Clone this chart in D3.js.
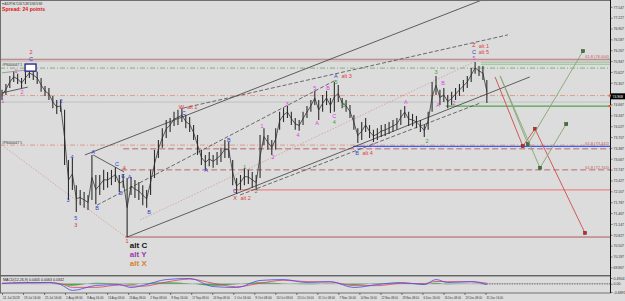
<!DOCTYPE html>
<html>
<head>
<meta charset="utf-8">
<script src="https://cdn.jsdelivr.net/npm/d3@7"></script>
<style>
html, body { margin: 0; padding: 0; background: #dcdcdc; }
svg { display: block; font-family: "Liberation Sans", Arial, sans-serif; }
</style>
</head>
<body>
<div id="chart"></div>
<script>
// ---- data (one bar per trading day) ----
const barHigh = [
  75.10, 75.27, 75.51, 75.63, 75.57, 75.45, 75.63, 75.74, 75.68, 75.63,
  75.45, 75.21, 75.15, 74.92, 74.80, 74.80, 74.51, 73.03, 73.09, 72.29,
  72.15, 72.09, 72.00, 73.18, 72.59, 72.59, 72.74, 72.68, 72.74, 72.82,
  72.59, 72.62, 72.50, 72.53, 72.44, 72.38, 72.29, 72.15, 72.74, 73.33,
  73.62, 73.97, 74.21, 74.27, 74.45, 74.51, 74.56, 74.36, 74.30, 74.06,
  73.77, 73.33, 73.18, 73.27, 73.18, 73.27, 73.39, 73.62, 73.56, 73.03,
  72.50, 72.59, 72.80, 72.74, 72.68, 72.59, 73.77, 73.97, 73.77, 73.62,
  73.97, 74.45, 74.56, 74.62, 74.45, 74.27, 74.21, 74.45, 74.62, 74.80,
  75.07, 74.80, 74.95, 75.07, 74.86, 75.33, 75.24, 74.86, 74.80, 74.65,
  74.36, 73.97, 74.15, 74.27, 74.06, 73.92, 73.97, 74.06, 74.09, 74.15,
  74.21, 74.27, 74.51, 74.62, 74.45, 74.39, 74.33, 74.21, 74.09, 74.45,
  75.33, 75.51, 75.10, 75.15, 74.95, 75.04, 75.15, 75.27, 75.39, 75.51,
  75.74, 75.92, 75.80, 75.80, 75.39
];
const barLow = [
  74.80, 74.95, 75.15, 75.33, 75.27, 75.15, 75.27, 75.45, 75.39, 75.27,
  75.04, 74.92, 74.80, 74.56, 74.39, 74.45, 72.88, 71.85, 72.15, 71.50,
  71.70, 71.62, 71.56, 71.85, 71.73, 72.00, 72.15, 72.21, 72.29, 72.38,
  72.09, 72.21, 70.76, 72.00, 71.91, 71.85, 71.70, 71.62, 72.00, 72.50,
  73.09, 73.39, 73.68, 73.86, 74.03, 74.06, 74.15, 73.97, 73.86, 73.62,
  73.18, 72.88, 72.74, 72.85, 72.80, 72.88, 72.97, 73.09, 73.09, 72.29,
  72.03, 72.15, 72.29, 72.32, 72.21, 72.15, 72.50, 73.47, 73.33, 73.18,
  73.33, 73.92, 74.15, 74.27, 74.06, 73.92, 73.89, 74.06, 74.27, 74.45,
  74.65, 74.21, 74.45, 74.65, 74.42, 74.45, 74.74, 74.56, 74.45, 74.27,
  73.92, 73.53, 73.62, 73.86, 73.68, 73.56, 73.62, 73.71, 73.74, 73.80,
  73.86, 73.92, 74.06, 74.27, 74.03, 74.03, 73.97, 73.86, 73.71, 73.92,
  74.45, 74.95, 74.65, 74.74, 74.56, 74.65, 74.80, 74.92, 75.04, 75.15,
  75.33, 75.57, 75.51, 75.39, 74.71
];
const lastPrice = 74.908;

const timeLabels = [
  '11 Jul 2019', '19 Jul 16:00', '25 Jul 16:00', '2 Aug 08:00', '9 Aug 16:00', '16 Aug 08:00',
  '23 Aug 08:00', '2 Sep 08:00', '9 Sep 16:00', '17 Sep 08:00', '24 Sep 08:00', '1 Oct 16:00',
  '9 Oct 08:00', '16 Oct 08:00', '23 Oct 16:00', '31 Oct 08:00', '7 Nov 16:00', '14 Nov 16:00',
  '22 Nov 08:00', '29 Nov 08:00', '6 Dec 16:00', '16 Dec 08:00', '23 Dec 08:00', '31 Dec 16:00'
];
// 74.987 sits under the current-price box, so it is not listed
const priceTicks = [
  77.547, 77.227, 76.907, 76.587, 76.267, 75.947, 75.627, 75.307, 74.667,
  74.347, 74.027, 73.707, 73.387, 73.067, 72.747, 72.427, 72.107, 71.787, 71.467,
  71.147, 70.827, 70.507, 70.187, 69.867
];

// horizontal levels: price, first bar, kind
const levelPrice = [76.00, 75.95, 75.90, 75.85, 75.74, 74.93, 74.74, 74.62, 73.47, 73.43, 73.36, 72.74, 72.15, 70.76];
const levelStart = [0, 0, 123, 123, 0, 0, 0, 114, 0, 90.3, 31.5, 31, 59.6, 32];
const levelKind  = ['brown', 'brownLight', 'greenLight', 'greenLight', 'greenDashDot', 'salmonDashDot', 'grey',
                    'green', 'salmonDashDot', 'blue', 'brownDash', 'brownDash', 'pink', 'darkRed'];
const fibPrice = [76.00, 73.43, 72.74];
const fibText  = ['61.8 (76.004)', '61.8 (73.432)', '61.8 (72.744)'];

// trend lines: [bar, price] -> [bar, price]
const trendFrom = [[21.2, 73.18], [32, 70.76], [60.9, 72.00], [46.3, 74.56], [24.3, 71.70], [23.3, 73.18],
                   [0, 75.01], [0, 75.60], [0, 73.47], [35.3, 71.26]];
const trendTo   = [[122.8, 77.75], [135, 75.48], [122.3, 74.71], [129.4, 76.72], [85.4, 75.39], [31.2, 72.68],
                   [6.6, 75.18], [5.9, 75.68], [32, 70.73], [120.7, 75.92]];
const trendKind = ['solid', 'solid', 'dash', 'dash', 'dash', 'solid', 'solid', 'grey', 'pinkDot', 'pinkDot'];

// projected paths on the right
const projRedBars = [126.1, 133.2, 136.3, 149.1];
const projRedPrices = [75.48, 73.44, 73.95, 70.88];
const projGreenABars = [127.4, 134.5, 148.6];
const projGreenAPrices = [75.51, 73.50, 76.24];
const projGreenBBars = [127.4, 137.6, 144.3];
const projGreenBPrices = [75.51, 72.80, 74.09];

// wave labels: bar, price, text, kind
const waveLabels = [
  [0.2, 74.77, '1', 'mag'], [3.6, 75.64, '1', 'mag'], [5.1, 75.04, '2', 'mag'],
  [7.4, 76.20, '2', 'red'], [7.4, 76.01, 'C', 'blue'],
  [15.1, 74.77, '2', 'blue'], [16.9, 71.85, '3', 'blue'], [17.9, 73.12, '4', 'blue'],
  [18.9, 71.32, '5', 'blue'], [18.9, 71.12, '3', 'red'],
  [23.3, 73.27, 'A', 'blue'], [24.3, 71.62, 'B', 'blue'], [29.4, 72.91, 'C', 'blue'],
  [30.4, 72.06, 'D', 'blue'], [31.0, 72.56, 'E', 'blue'], [31.3, 72.80, '4', 'red'],
  [32.6, 72.53, 'A', 'blue'], [32.0, 70.64, '1', 'red'], [37.6, 71.50, 'B', 'blue'],
  [46.5, 74.42, 'C', 'blue'], [45.9, 74.59, 'W', 'red'], [47.3, 74.59, 'alt 1', 'alt'],
  [52.2, 72.74, 'A', 'blue'], [58.0, 73.62, 'B', 'blue'],
  [59.6, 72.12, 'C', 'blue'], [59.6, 71.90, 'X', 'red'], [61.0, 71.90, 'alt 2', 'alt'],
  [62.1, 72.82, '1', 'green'], [65.0, 72.12, '2', 'green'],
  [66.5, 74.03, '1', 'mag'], [69.3, 73.12, '2', 'mag'], [72.9, 74.68, '3', 'mag'],
  [75.7, 73.77, '4', 'mag'], [80.0, 75.15, '5', 'mag'], [80.6, 74.12, 'A', 'mag'],
  [83.4, 75.15, 'B', 'mag'], [85.0, 74.33, 'C', 'mag'], [85.0, 74.15, '4', 'green'],
  [85.4, 75.51, 'A', 'blue'], [86.8, 75.51, 'alt 3', 'alt'], [85.4, 75.33, '5', 'green'],
  [87.5, 74.65, 'B', 'green'],
  [90.8, 73.24, 'B', 'blue'], [92.2, 73.24, 'alt 4', 'alt'],
  [94.9, 73.47, '2', 'mag'], [103.3, 74.74, 'A', 'mag'], [108.7, 73.59, '2', 'green'],
  [111.0, 75.63, '3', 'green'], [111.5, 74.65, 'A', 'mag'], [112.8, 75.30, 'B', 'mag'],
  [115.6, 74.71, '2', 'mag'],
  [120.7, 76.04, '5', 'mag'], [120.7, 76.22, 'C', 'blue'], [121.9, 76.20, 'alt 5', 'alt'],
  [120.7, 76.42, 'Z', 'red'], [121.9, 76.40, 'alt 1', 'alt']
];
const altBigLabels = [[32.7, 70.53, 'alt C', 'altC'], [32.7, 70.26, 'alt Y', 'altY'], [32.7, 69.99, 'alt X', 'altX']];

// MACD window
const oscBars   = [0, 6, 12, 15, 18, 24, 30, 33, 36, 42, 48, 54, 60, 66, 72, 78, 84, 90, 96, 102, 108, 111, 114, 120, 124];
const macdMain  = [0.03, 0.11, 0.11, -0.06, -0.56, -0.14, -0.06, -0.31, -0.14, 0.36, 0.45, -0.23, -0.31, 0.28, 0.36, 0.11, 0.19, -0.31, -0.06, 0.11, -0.06, 0.36, 0.11, 0.19, -0.06];
const macdSignal = [0.05, 0.08, 0.10, 0.02, -0.30, -0.30, -0.10, -0.18, -0.20, 0.15, 0.40, 0.05, -0.25, 0.05, 0.30, 0.18, 0.15, -0.15, -0.15, 0.03, 0.02, 0.20, 0.18, 0.17, 0.05];
const oscTicks = [0.4904, 0, -0.6891];
const oscTickText = ['0.4904', '0.00', '-0.6891'];

// ---- drawing ----
const W = 625, H = 301;
const svg = d3.select('#chart').append('svg').attr('width', W).attr('height', H);

const x = d3.scaleLinear().domain([0, 155.5]).range([2, 610]);
const y = d3.scaleLinear().domain([69.641, 77.718]).range([275, 1]);
const yOsc = d3.scaleLinear().domain([-0.6891, 0.4904]).range([292, 278]);

svg.append('rect').attr('width', W).attr('height', H).attr('fill', '#dcdcdc');

const defs = svg.append('defs');
defs.append('clipPath').attr('id', 'clipMain').append('rect').attr('x', 1).attr('y', 1).attr('width', 609).attr('height', 274);
defs.append('clipPath').attr('id', 'clipOsc').append('rect').attr('x', 1).attr('y', 276).attr('width', 609).attr('height', 17);

const main = svg.append('g').attr('clip-path', 'url(#clipMain)');

const levelStyle = {
  brown:         { stroke: '#b37a7a', dash: null, w: 1 },
  brownLight:    { stroke: '#c9a0a0', dash: null, w: 0.8 },
  greenLight:    { stroke: '#9cc99c', dash: null, w: 1 },
  greenDashDot:  { stroke: '#5fa85f', dash: '5,2,1,2', w: 0.8 },
  salmonDashDot: { stroke: '#e08a6e', dash: '5,2,1,2', w: 0.8 },
  grey:          { stroke: '#b9b9b9', dash: null, w: 0.8 },
  green:         { stroke: '#4ea34e', dash: null, w: 1.2 },
  blue:          { stroke: '#3a5cf0', dash: null, w: 1.2 },
  brownDash:     { stroke: '#b85c5c', dash: '6,3', w: 0.9 },
  pink:          { stroke: '#ee8585', dash: null, w: 1.2 },
  darkRed:       { stroke: '#b25a5a', dash: null, w: 1 }
};
levelPrice.forEach((p, i) => {
  const s = levelStyle[levelKind[i]];
  main.append('line')
    .attr('x1', x(levelStart[i]) - 2).attr('x2', 612)
    .attr('y1', y(p)).attr('y2', y(p))
    .attr('stroke', s.stroke).attr('stroke-width', s.w)
    .attr('stroke-dasharray', s.dash);
});

const trendStyle = {
  solid:   { stroke: '#3c3c3c', dash: null, w: 0.8 },
  dash:    { stroke: '#4a4a4a', dash: '4,2', w: 0.8 },
  grey:    { stroke: '#8a8a8a', dash: null, w: 0.8 },
  pinkDot: { stroke: '#d49a9a', dash: '1.5,1.5', w: 0.8 }
};
trendFrom.forEach((a, i) => {
  const b = trendTo[i], s = trendStyle[trendKind[i]];
  main.append('line')
    .attr('x1', x(a[0])).attr('y1', y(a[1]))
    .attr('x2', x(b[0])).attr('y2', y(b[1]))
    .attr('stroke', s.stroke).attr('stroke-width', s.w)
    .attr('stroke-dasharray', s.dash);
});

// price bars
const bars = barHigh.map((h, i) => ({ i, h, l: barLow[i] }));
main.append('path')
  .attr('d', d3.line().x(d => x(d.i)).y(d => y((d.h + d.l) / 2))(bars))
  .attr('fill', 'none').attr('stroke', '#333').attr('stroke-width', 0.8);
main.selectAll('.bar').data(bars).enter().append('line')
  .attr('class', 'bar')
  .attr('x1', d => x(d.i)).attr('x2', d => x(d.i))
  .attr('y1', d => y(d.h)).attr('y2', d => y(d.l))
  .attr('stroke', '#2c2c2c').attr('stroke-width', 1.1);

// blue box on the early high
main.append('rect')
  .attr('x', x(5.9)).attr('y', y(75.86))
  .attr('width', x(8.7) - x(5.9)).attr('height', y(75.65) - y(75.86))
  .attr('fill', '#ffffff').attr('stroke', '#2b2b8a').attr('stroke-width', 1.4);

// projections
function projPath(bs, ps, color, boxColor) {
  const pts = bs.map((b, i) => [x(b), y(ps[i])]);
  main.append('path').attr('d', d3.line()(pts))
    .attr('fill', 'none').attr('stroke', color).attr('stroke-width', 0.9);
  main.selectAll(null).data(pts.slice(1)).enter().append('rect')
    .attr('x', d => d[0] - 1.6).attr('y', d => d[1] - 1.6)
    .attr('width', 3.2).attr('height', 3.2)
    .attr('fill', boxColor).attr('stroke', '#333').attr('stroke-width', 0.4);
}
projPath(projRedBars, projRedPrices, '#cf4b4b', '#d42020');
projPath(projGreenABars, projGreenAPrices, '#86a672', '#3b7a2a');
projPath(projGreenBBars, projGreenBPrices, '#86a672', '#3b7a2a');

// wave labels
const waveColor = { blue: '#2f3fd0', red: '#e03030', mag: '#e040e0', green: '#3f9a3f', alt: '#e04040' };
main.selectAll('.wave').data(waveLabels).enter().append('text')
  .attr('class', 'wave')
  .attr('x', d => x(d[0])).attr('y', d => y(d[1]))
  .attr('dy', '0.35em')
  .attr('text-anchor', d => d[3] === 'alt' ? 'start' : 'middle')
  .attr('font-size', 5.5)
  .attr('fill', d => waveColor[d[3]])
  .text(d => d[2]);

const bigColor = { altC: '#111111', altY: '#9a3aa8', altX: '#d9803a' };
main.selectAll('.big').data(altBigLabels).enter().append('text')
  .attr('class', 'big')
  .attr('x', d => x(d[0])).attr('y', d => y(d[1]))
  .attr('dy', '0.35em')
  .attr('font-size', 8).attr('font-weight', 'bold')
  .attr('fill', d => bigColor[d[3]])
  .text(d => d[2]);

// fib labels and object names
main.selectAll('.fib').data(fibPrice).enter().append('text')
  .attr('x', 609).attr('y', d => y(d) - 1)
  .attr('text-anchor', 'end').attr('font-size', 4)
  .attr('fill', '#c05a5a')
  .text((d, i) => fibText[i]);
main.append('text').attr('x', 2).attr('y', y(75.74) - 2.5).attr('font-size', 3.4).attr('fill', '#333')
  .attr('textLength', 20).attr('lengthAdjust', 'spacingAndGlyphs').text('#PS000047 1');
main.append('text').attr('x', 2).attr('y', y(73.47) - 1.5).attr('font-size', 3.4).attr('fill', '#333')
  .attr('textLength', 20).attr('lengthAdjust', 'spacingAndGlyphs').text('#PS000047 5');

// MACD
const osc = svg.append('g').attr('clip-path', 'url(#clipOsc)');
const oscData = oscBars.map((b, i) => ({ b, m: macdMain[i], s: macdSignal[i] }));
osc.append('line').attr('x1', 1).attr('x2', 610).attr('y1', yOsc(0)).attr('y2', yOsc(0))
  .attr('stroke', '#a0a0a0').attr('stroke-width', 0.6);
osc.append('line').attr('x1', x(124)).attr('x2', 610).attr('y1', yOsc(0)).attr('y2', yOsc(0))
  .attr('stroke', '#333').attr('stroke-width', 0.7).attr('stroke-dasharray', '1,1.5');
osc.append('path')
  .attr('d', d3.area().x(d => x(d.b)).y0(yOsc(0)).y1(d => yOsc((d.m - d.s) * 0.6)).curve(d3.curveMonotoneX)(oscData))
  .attr('fill', '#3d9a3d').attr('opacity', 0.85);
osc.append('path')
  .attr('d', d3.line().x(d => x(d.b)).y(d => yOsc(d.s)).curve(d3.curveMonotoneX)(oscData))
  .attr('fill', 'none').attr('stroke', '#e04060').attr('stroke-width', 0.8);
osc.append('path')
  .attr('d', d3.line().x(d => x(d.b)).y(d => yOsc(d.m)).curve(d3.curveMonotoneX)(oscData))
  .attr('fill', 'none').attr('stroke', '#4a4ae8').attr('stroke-width', 0.8);
svg.append('text').attr('x', 3).attr('y', 280.5).attr('font-size', 3.6).attr('fill', '#222')
  .text('MACD(12,26,9) 0.0405 0.0063 0.0342');

// frames
svg.append('rect').attr('x', 0.5).attr('y', 0.5).attr('width', 610).attr('height', 275)
  .attr('fill', 'none').attr('stroke', '#555').attr('stroke-width', 0.8);
svg.append('rect').attr('x', 0.5).attr('y', 276).attr('width', 610).attr('height', 17)
  .attr('fill', 'none').attr('stroke', '#555').attr('stroke-width', 0.8);
svg.append('line').attr('x1', 610.5).attr('x2', 610.5).attr('y1', 0).attr('y2', 293)
  .attr('stroke', '#111').attr('stroke-width', 1);

// right price axis
const yAxisG = svg.append('g').attr('transform', 'translate(610.5,0)')
  .call(d3.axisRight(y).tickValues(priceTicks).tickSize(2).tickSizeOuter(0).tickFormat(d3.format('.3f')));
yAxisG.select('.domain').remove();
yAxisG.selectAll('line').attr('stroke', '#333').attr('stroke-width', 0.6);
yAxisG.selectAll('text').attr('x', 3).attr('font-size', 3.9).attr('fill', '#333')
  .attr('font-family', '"Liberation Sans", Arial, sans-serif')
  .attr('textLength', 10.5).attr('lengthAdjust', 'spacingAndGlyphs');

const oscAxisG = svg.append('g').attr('transform', 'translate(610.5,0)')
  .call(d3.axisRight(yOsc).tickValues(oscTicks).tickSize(2).tickSizeOuter(0).tickFormat((d, i) => oscTickText[i]));
oscAxisG.select('.domain').remove();
oscAxisG.selectAll('line').attr('stroke', '#333').attr('stroke-width', 0.6);
oscAxisG.selectAll('text').attr('x', 3).attr('font-size', 3.6).attr('fill', '#333')
  .attr('font-family', '"Liberation Sans", Arial, sans-serif');

// current price marker
svg.append('rect').attr('x', 611).attr('y', y(lastPrice) - 3).attr('width', 14).attr('height', 6).attr('fill', '#000');
svg.append('text').attr('x', 612.5).attr('y', y(lastPrice)).attr('dy', '0.35em')
  .attr('font-size', 3.9).attr('fill', '#fff')
  .attr('textLength', 10.5).attr('lengthAdjust', 'spacingAndGlyphs')
  .text(d3.format('.3f')(lastPrice));
svg.selectAll('.edge').data([74.93, 74.62]).enter().append('rect')
  .attr('x', 608.5).attr('y', d => y(d) - 1).attr('width', 2.5).attr('height', 2).attr('fill', '#e05a20');

// time axis
const tickBars = timeLabels.map((t, i) => i * 123.67 / (timeLabels.length - 1));
const xAxisG = svg.append('g').attr('transform', 'translate(0,293)')
  .call(d3.axisBottom(x).tickValues(tickBars).tickSize(2).tickSizeOuter(0).tickFormat((d, i) => timeLabels[i]));
xAxisG.select('.domain').remove();
xAxisG.selectAll('line').attr('stroke', '#333').attr('stroke-width', 0.6);
xAxisG.selectAll('text').attr('text-anchor', 'start').attr('dx', '0.5').attr('y', 3)
  .attr('font-size', 3.7).attr('fill', '#333')
  .attr('font-family', '"Liberation Sans", Arial, sans-serif')
  .attr('textLength', 16.5).attr('lengthAdjust', 'spacingAndGlyphs');

// header
svg.append('text').attr('x', 2).attr('y', 4.5).attr('font-size', 3.4).attr('fill', '#111')
  .attr('textLength', 40).attr('lengthAdjust', 'spacingAndGlyphs')
  .text('\u25BC AUDJPY,H4  75.266 75.288 74.908 74.908');
svg.append('text').attr('x', 2).attr('y', 10.5).attr('font-size', 5.2).attr('font-weight', 'bold')
  .attr('fill', '#e01010').attr('textLength', 43).attr('lengthAdjust', 'spacingAndGlyphs')
  .text('Spread: 24 points');
</script>
</body>
</html>
